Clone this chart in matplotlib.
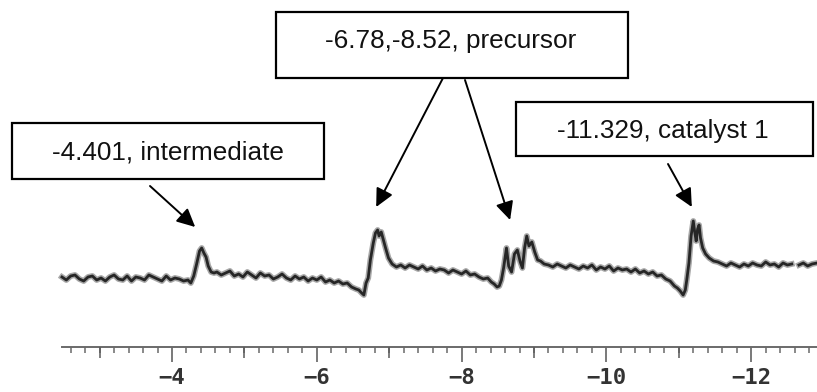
import numpy as np
import matplotlib
matplotlib.use("Agg")
import matplotlib.pyplot as plt
from matplotlib.patches import Rectangle
from matplotlib.ticker import FixedLocator, FixedFormatter

# ---------------- data ----------------
# chemical shift (ppm) and intensity (arbitrary units, baseline ~ 0)
seg_a_ppm = [-2.48, -2.54, -2.60, -2.66, -2.72, -2.78, -2.84, -2.90, -2.96, -3.02,
             -3.08, -3.14, -3.20, -3.26, -3.32, -3.38, -3.44, -3.50, -3.56, -3.62,
             -3.68, -3.74, -3.80, -3.86, -3.92, -3.98, -4.04, -4.10, -4.16, -4.22]
seg_a_int = [1, -2, 2, 3, -1, -3, 1, 2, -2, 0, -3, 1, 3, -1, -2, 2, -3, 1, 0, -2,
             3, 1, -1, -3, 2, -2, 0, -1, -3, -2]

peak1_ppm = [-4.26, -4.30, -4.34, -4.38, -4.41, -4.44, -4.47, -4.50, -4.54, -4.58]
peak1_int = [-5, 2, 14, 27, 30, 25, 21, 12, 6, 5]

seg_b_ppm = [-4.62, -4.68, -4.74, -4.80, -4.86, -4.92, -4.98, -5.04, -5.10, -5.16,
             -5.22, -5.28, -5.34, -5.40, -5.46, -5.52, -5.58, -5.64, -5.70, -5.76,
             -5.82, -5.88, -5.94, -6.00, -6.06, -6.12, -6.18, -6.24, -6.30, -6.36,
             -6.42, -6.48]
seg_b_int = [6, 3, 5, 7, 2, 4, 1, 6, 3, 0, 5, 2, 3, -1, 1, 4, 0, -2, 2, -1,
             1, -3, 0, -2, 1, -4, -2, -5, -3, -6, -5, -9]

peak2_ppm = [-6.54, -6.58, -6.62, -6.65, -6.68, -6.71, -6.74, -6.78, -6.81, -6.84,
             -6.86, -6.89, -6.92, -6.95, -6.99, -7.04, -7.10, -7.16]
peak2_int = [-11, -12, -15, -17, -5, 0, 18, 35, 45, 48, 42, 46, 38, 30, 20, 14, 11, 13]

seg_c_ppm = [-7.22, -7.28, -7.34, -7.40, -7.46, -7.52, -7.58, -7.64, -7.70, -7.76,
             -7.82, -7.88, -7.94, -8.00, -8.06, -8.12, -8.18, -8.24, -8.30, -8.36]
seg_c_int = [10, 13, 11, 9, 12, 8, 10, 7, 9, 8, 5, 8, 6, 4, 7, 3, 4, 1, -1, 0]

peak3_ppm = [-8.41, -8.45, -8.49, -8.52, -8.55, -8.58, -8.62, -8.65, -8.69, -8.73,
             -8.77, -8.81, -8.84, -8.87, -8.90, -8.93, -8.97, -9.01, -9.05, -9.09,
             -9.14, -9.20]
peak3_int = [-4, -6, -9, -8, -2, 10, 30, 12, 6, 24, 28, 16, 10, 30, 42, 32, 36, 26, 18, 17,
             14, 13]

seg_d_ppm = [-9.26, -9.32, -9.38, -9.44, -9.50, -9.56, -9.62, -9.68, -9.74, -9.80,
             -9.86, -9.92, -9.98, -10.04, -10.10, -10.16, -10.22, -10.28, -10.34, -10.40,
             -10.46, -10.52, -10.58, -10.64, -10.70, -10.76, -10.82, -10.88, -10.94]
seg_d_int = [11, 14, 12, 10, 13, 11, 9, 12, 10, 13, 8, 11, 9, 12, 7, 10, 8, 9, 6, 9,
             5, 7, 4, 6, 2, 3, -1, -3, -8]

peak4_ppm = [-10.98, -11.02, -11.06, -11.09, -11.11, -11.14, -11.17, -11.20, -11.22, -11.24,
             -11.26, -11.28, -11.30, -11.33, -11.37, -11.42, -11.48, -11.54]
peak4_int = [-10, -13, -17, -12, -2, 15, 42, 57, 46, 37, 49, 53, 40, 30, 24, 20, 17, 16]

seg_e_ppm = [-11.60, -11.66, -11.72, -11.78, -11.84, -11.90, -11.96, -12.02, -12.08, -12.14,
             -12.20, -12.26, -12.32, -12.38, -12.44, -12.50, -12.56, -12.60,
             -12.66, -12.72, -12.78, -12.84, -12.91]
seg_e_int = [14, 12, 15, 13, 11, 14, 12, 15, 13, 12, 16, 13, 14, 11, 15, 13, 14, np.nan,
             13, 15, 12, 14, 15]

ppm = seg_a_ppm + peak1_ppm + seg_b_ppm + peak2_ppm + seg_c_ppm + peak3_ppm + seg_d_ppm + peak4_ppm + seg_e_ppm
intensity = seg_a_int + peak1_int + seg_b_int + peak2_int + seg_c_int + peak3_int + seg_d_int + peak4_int + seg_e_int

major_ticks = [-4, -6, -8, -10, -12]
major_labels = ["\u22124", "\u22126", "\u22128", "\u221210", "\u221212"]
odd_ticks = [-3, -5, -7, -9, -11]
minor_ticks = np.round(np.arange(-2.6, -12.85, -0.2), 1)

labels = ["-4.401, intermediate", "-6.78,-8.52, precursor", "-11.329, catalyst 1"]
# arrow targets (ppm, intensity) grouped per label
arrow_targets = [[(-4.32, 51)], [(-6.82, 71), (-8.67, 58)], [(-11.18, 71)]]

# ---------------- layout ----------------
W, H = 817, 392
fig = plt.figure(figsize=(W / 100, H / 100), dpi=100)
XL = (-1.624, -12.909)

ax = fig.add_axes([0, 0, 1, 1])
ax.set_xlim(*XL)
ax.set_ylim(-114, 278)
ax.axis("off")
# fuzzy scanned trace: soft wide band + dark core
ax.plot(ppm, intensity, color="#3c3c3c", lw=4.2, alpha=0.45, solid_joinstyle="round")
ax.plot(ppm, intensity, color="#262626", lw=2.0, solid_joinstyle="round")

# ruler (scale) axes
ruler_y = (H - 347) / H
ruler = fig.add_axes([0, ruler_y, 1, 0.0001])
ruler.set_xlim(*XL)
ruler.patch.set_visible(False)
for s in ["left", "right", "top"]:
    ruler.spines[s].set_visible(False)
ruler.spines["bottom"].set_bounds(-2.48, -12.91)
ruler.spines["bottom"].set_color("#6a6a6a")
ruler.spines["bottom"].set_linewidth(1.4)
ruler.set_yticks([])
ruler.xaxis.set_major_locator(FixedLocator(major_ticks))
ruler.xaxis.set_major_formatter(FixedFormatter(major_labels))
ruler.xaxis.set_minor_locator(FixedLocator(minor_ticks))
ruler.tick_params(axis="x", which="major", length=10.5, width=1.1, color="#555555",
                  pad=4.5, labelsize=16, labelcolor="#333333")
ruler.tick_params(axis="x", which="minor", length=4.5, width=1.1, color="#6a6a6a")
for t in ruler.get_xticklabels():
    t.set_fontfamily("DejaVu Sans Mono")
    t.set_fontweight("bold")

ruler2 = fig.add_axes([0, ruler_y, 1, 0.0001])
ruler2.set_xlim(*XL)
ruler2.patch.set_visible(False)
for s in ruler2.spines.values():
    s.set_visible(False)
ruler2.set_yticks([])
ruler2.xaxis.set_major_locator(FixedLocator(odd_ticks))
ruler2.tick_params(axis="x", which="major", length=8, width=1.1, color="#5a5a5a", labelbottom=False)

# overlay in pixel coordinates for the label boxes
ov = fig.add_axes([0, 0, 1, 1])
ov.set_xlim(0, W)
ov.set_ylim(H, 0)
ov.axis("off")

boxes = [(12, 123, 312, 56), (276, 12, 352, 66), (516, 102, 297, 54)]
text_pos = [(168, 159), (451, 48), (663, 138)]
arrow_starts = [[(150, 186)], [(443, 78), (465, 80)], [(668, 164)]]

for lab, (bx, by, bw, bh), (tx, ty), starts, targets in zip(labels, boxes, text_pos, arrow_starts, arrow_targets):
    ov.add_patch(Rectangle((bx, by), bw, bh, fill=False, edgecolor="black", lw=1.6))
    ov.text(tx, ty, lab, ha="center", va="baseline", fontsize=18.8,
            family="Liberation Sans", color="#111111")
    for (sx, sy), (px, py) in zip(starts, targets):
        ax.annotate("", xy=(px, py), xycoords="data", xytext=(sx, sy), textcoords=ov.transData,
                    arrowprops=dict(arrowstyle="-|>,head_length=0.55,head_width=0.27",
                                    mutation_scale=20, color="black", lw=1.4,
                                    shrinkA=0, shrinkB=0))

fig.savefig("out.png", dpi=100)
